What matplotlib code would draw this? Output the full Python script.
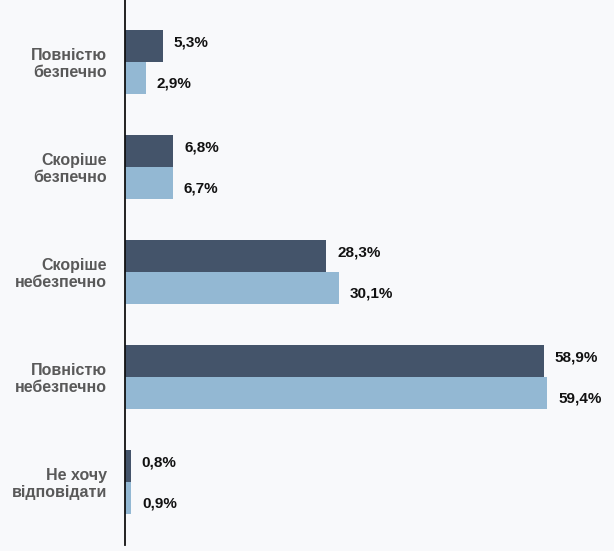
import numpy as np
import matplotlib
matplotlib.use("Agg")
import matplotlib.pyplot as plt

categories = ["Повністю\nбезпечно", "Скоріше\nбезпечно", "Скоріше\nнебезпечно",
              "Повністю\nнебезпечно", "Не хочу\nвідповідати"]
series_dark = [5.3, 6.8, 28.3, 58.9, 0.8]
series_light = [2.9, 6.7, 30.1, 59.4, 0.9]

DARK = "#44546a"
LIGHT = "#93b8d3"
BG = "#f8f9fb"

plt.rcParams["font.family"] = ["Liberation Sans", "DejaVu Sans"]

fig = plt.figure(figsize=(6.14, 5.51), dpi=100, facecolor=BG)
ax = fig.add_axes([125 / 614, 6 / 551, 489 / 614, 545 / 551], facecolor=BG)

y = np.arange(len(categories))
h = 0.305
ax.barh(y - h / 2, series_dark, height=h, color=DARK)
ax.barh(y + h / 2, series_light, height=h, color=LIGHT)

fmt = lambda v: f"{v:.1f}%".replace(".", ",")
for yi, v in zip(y, series_dark):
    ax.annotate(fmt(v), (v, yi - h / 2), xytext=(8, 2.5), textcoords="offset points",
                ha="left", va="center", fontsize=11, fontweight="bold", color="#111111")
for yi, v in zip(y, series_light):
    ax.annotate(fmt(v), (v, yi + h / 2), xytext=(8, -4), textcoords="offset points",
                ha="left", va="center", fontsize=11, fontweight="bold", color="#111111")

ax.set_xlim(0, 489 / 7.11)
ax.set_ylim(4.6, -0.59)
ax.set_yticks(y)
ax.set_yticklabels(categories, fontsize=11.5, fontweight="bold", color="#595959",
                   linespacing=1.1)
ax.tick_params(axis="y", length=0, pad=13)
ax.set_xticks([])
for s in ("top", "right", "bottom"):
    ax.spines[s].set_visible(False)
ax.spines["left"].set_linewidth(1.3)
ax.spines["left"].set_color("#111111")

fig.savefig("out.png", dpi=100, facecolor=BG)
